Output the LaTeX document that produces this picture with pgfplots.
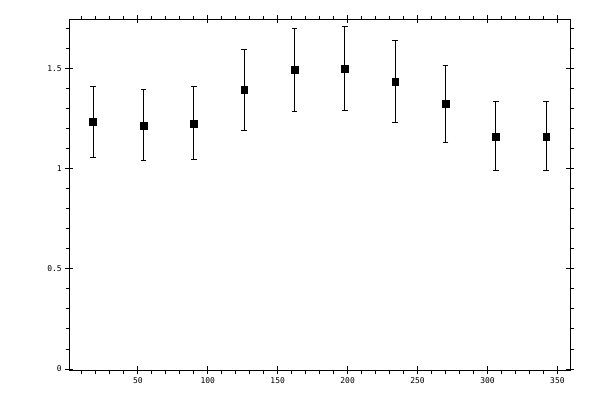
\documentclass[border=0pt]{standalone}
\usepackage{fontspec}
\setmonofont{DejaVu Sans Mono}
\usepackage{pgfplots}
\pgfplotsset{compat=1.18}
\usetikzlibrary{calc}

% bins of 36 degrees, value and asymmetric errors
\pgfplotstableread{
x   y      ep     em
18  1.235  0.176  0.179
54  1.215  0.180  0.176
90  1.225  0.184  0.180
126 1.395  0.200  0.205
162 1.495  0.206  0.210
198 1.500  0.207  0.210
234 1.435  0.205  0.205
270 1.325  0.190  0.195
306 1.160  0.175  0.170
342 1.160  0.175  0.170
}\datatable

\pgfplotsset{
  frame/.style={
    scale only axis,
    width=500.7bp, height=350.7bp,
    xmin=1, xmax=359,
    ymin=-0.005, ymax=1.745,
    xtick={50,100,...,350},
    ytick={0,0.5,1,1.5},
    axis line style={line width=0.9bp},
    every tick/.style={black, line width=0.9bp},
  }
}

\begin{document}
\begin{tikzpicture}
\begin{axis}[
    frame,
    tick align=center,
    major tick length=8bp,
    tick label style={font=\ttfamily\fontsize{8}{8}\selectfont},
    /pgf/number format/assume math mode=true,
]
\addplot[
    only marks,
    mark=square*,
    mark size=3.4bp,
    black,
    error bars/.cd,
      y dir=both,
      y explicit,
      error bar style={line width=0.9bp},
      error mark options={line width=0.9bp, mark size=2.8bp, rotate=90},
] table[x=x, y=y, y error plus=ep, y error minus=em] {\datatable};
\end{axis}
% minor ticks, set outside the frame
\begin{axis}[
    frame,
    xticklabels={}, yticklabels={},
    minor xtick={10,20,...,350},
    minor ytick={0.1,0.2,...,1.7},
    tick align=outside,
    major tick length=0bp,
    minor tick length=3.5bp,
]
\end{axis}
\pgfresetboundingbox
\path ($(current axis.south west)+(-69.3bp,-30bp)$) rectangle ($(current axis.north east)+(30bp,19.3bp)$);
\end{tikzpicture}
\end{document}
